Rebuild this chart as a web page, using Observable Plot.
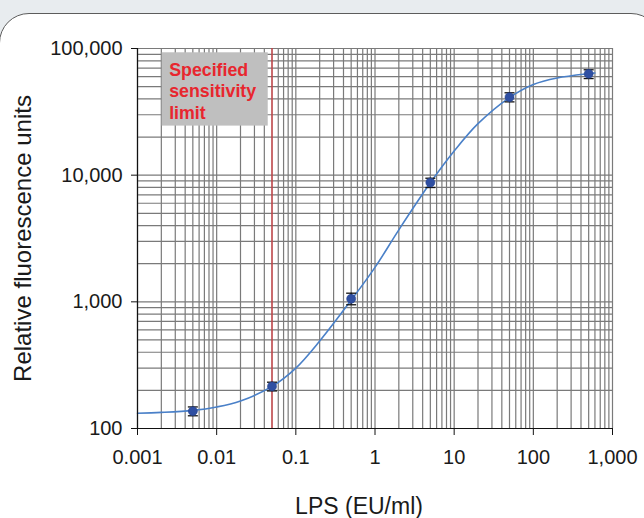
<!DOCTYPE html>
<html><head><meta charset="utf-8">
<script src="https://cdn.jsdelivr.net/npm/d3@7"></script>
<script src="https://cdn.jsdelivr.net/npm/@observablehq/plot@0.6"></script>
<style>
html,body{margin:0;padding:0;width:644px;height:518px;overflow:hidden;background:#e8ecef;}
#panel{position:absolute;left:-1px;top:13px;width:662px;height:580px;background:#fff;border:1.5px solid #5c5c5c;border-radius:30px;box-sizing:border-box;}
#chart{position:absolute;left:0;top:0;}
</style></head><body>
<div id="panel"></div><div id="chart"></div>
<script>
// Measured LPS standard points
const lps      = [0.005, 0.05, 0.5, 5, 50, 500];
const rfuMean  = [137, 215, 1057, 8750, 41300, 63100];
const rfuLow   = [126, 198, 948, 7990, 37900, 57900];
const rfuHigh  = [148, 232, 1170, 9460, 44700, 67900];
// Fitted curve
const fitX = [0.001, 0.002, 0.005, 0.01, 0.02, 0.05, 0.1, 0.2, 0.5, 1, 2, 5, 10, 20, 50, 100, 200, 500, 600];
const fitY = [132, 134, 139, 148, 165, 215, 300, 490, 1030, 1870, 3700, 8700, 15500, 25500, 41000, 52000, 58500, 63300, 64000];
// Axis ticks
const xTicks = [0.001, 0.01, 0.1, 1, 10, 100, 1000];
const xTickLabels = ["0.001", "0.01", "0.1", "1", "10", "100", "1,000"];
const yTicks = [100, 1000, 10000, 100000];
const yTickLabels = ["100", "1,000", "10,000", "100,000"];
const sensitivityLimit = [0.05];
const noteLabel = ["Specified\nsensitivity\nlimit"];
const xTitle = ["LPS (EU/ml)"];
const yTitle = ["Relative fluorescence units"];

const xLab = new Map(xTicks.map((d, i) => [d, xTickLabels[i]]));
const yLab = new Map(yTicks.map((d, i) => [d, yTickLabels[i]]));

const pts = lps.map((x, i) => ({x, y: rfuMean[i], lo: rfuLow[i], hi: rfuHigh[i]}));
const caps = pts.flatMap(d => [{x: d.x, y: d.lo}, {x: d.x, y: d.hi}]);
const fit = fitX.map((x, i) => ({x, y: fitY[i]}));

// minor grid positions: 1..9 x 10^k
const xGrid = [];
for (let e = -3; e < 3; e++) for (let m = 1; m < 10; m++) xGrid.push(+(m * Math.pow(10, e)).toPrecision(6));
xGrid.push(1000);
const yGrid = [];
for (let e = 2; e < 5; e++) for (let m = 1; m < 10; m++) yGrid.push(m * Math.pow(10, e));
yGrid.push(100000);

const capSymbol = {draw(ctx, size) { const w = Math.sqrt(size / Math.PI); ctx.moveTo(-w, 0); ctx.lineTo(w, 0); }};

const chart = Plot.plot({
  width: 644, height: 518,
  marginLeft: 137, marginRight: 32, marginTop: 48, marginBottom: 90,
  x: {type: "log", domain: [0.001, 1000]},
  y: {type: "log", domain: [100, 100000]},
  style: {background: "transparent", fontFamily: "'Liberation Sans', Arial, sans-serif", color: "#1a1a1a"},
  marks: [
    Plot.ruleX(xGrid, {stroke: "#7a7a7a", strokeWidth: 1.2}),
    Plot.ruleY(yGrid, {stroke: "#7a7a7a", strokeWidth: 1.2}),
    Plot.rect([0], {x1: 0.00205, x2: 0.0448, y1: 24400, y2: 92500, fill: "#bfbfbf"}),
    Plot.text(noteLabel, {x: 0.00205, y: 92500, dx: 7, dy: 8, textAnchor: "start", lineAnchor: "top", fontSize: 17.8, fontWeight: "bold", fill: "#e8262e", lineHeight: 1.2}),
    Plot.ruleX(sensitivityLimit, {stroke: "#e3262c", strokeWidth: 1}),
    Plot.line(fit, {x: "x", y: "y", stroke: "#4a80c8", strokeWidth: 1.6, curve: "catmull-rom"}),
    Plot.ruleX(pts, {x: "x", y1: "lo", y2: "hi", stroke: "#111", strokeWidth: 1.3}),
    Plot.dot(caps, {x: "x", y: "y", symbol: capSymbol, r: 5, stroke: "#111", strokeWidth: 1.3, fill: "none"}),
    Plot.dot(pts, {x: "x", y: "y", r: 4.5, fill: "#2f4fa2", stroke: "#24408a", strokeWidth: 0.6}),
    Plot.ruleX([0.001], {stroke: "#111", strokeWidth: 1.2}),
    Plot.ruleY([100], {stroke: "#111", strokeWidth: 1.2}),
    Plot.axisX({ticks: xTicks, tickFormat: d => xLab.get(d), tickSize: 7, tickPadding: 14, fontSize: 20, label: null, stroke: "#111"}),
    Plot.axisY({ticks: yTicks, tickFormat: d => yLab.get(d), tickSize: 6, tickPadding: 9, fontSize: 20, label: null, stroke: "#111"}),
    Plot.text(xTitle, {frameAnchor: "bottom", dy: 78, dx: -16, textAnchor: "middle", lineAnchor: "middle", fontSize: 23, fill: "#1a1a1a"}),
    Plot.text(yTitle, {frameAnchor: "left", dx: -114, rotate: -90, textAnchor: "middle", lineAnchor: "middle", fontSize: 24, fill: "#1a1a1a"})
  ]
});
document.getElementById("chart").appendChild(chart);
</script>
</body></html>
